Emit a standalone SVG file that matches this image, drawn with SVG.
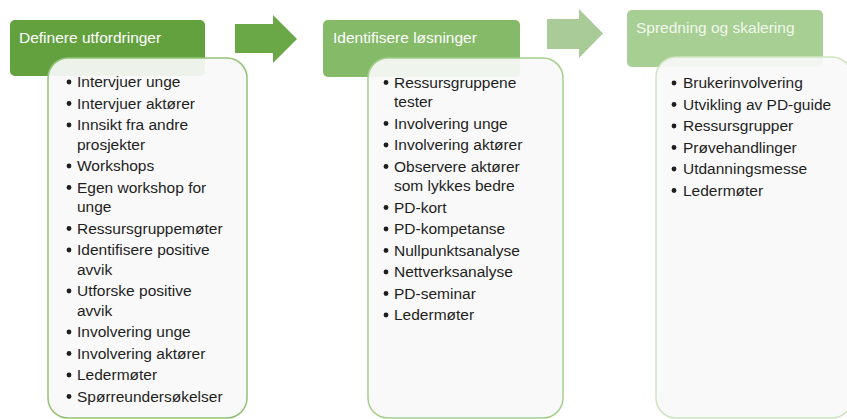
<svg xmlns="http://www.w3.org/2000/svg" width="847" height="419" viewBox="0 0 847 419">
<style>
  .hdr { stroke: none; }
  .htxt { font-family: "Liberation Sans", Arial, sans-serif; font-size: 15.5px; fill: #ffffff; }
  .body { fill: #f8f8f8; fill-opacity: 0.92; stroke-width: 1.5; }
  .item { font-family: "Liberation Sans", Arial, sans-serif; font-size: 15.5px; fill: #1e1e1e; }
  .dot { fill: #1e1e1e; }
</style>
<rect width="847" height="419" fill="#ffffff"/>

<g id="connectors">
  <polygon points="235,24 273,24 273,15 297,39 273,63 273,53 235,53" fill="#69a747"/>
  <polygon points="547,19 579,19 579,9 603,33.5 579,58 579,49 547,49" fill="#a9cb97"/>
</g>

<g id="node-definere">
  <rect class="hdr" x="10" y="20" width="195" height="56" rx="5" fill="#63a13f"/>
  <text class="htxt" x="19" y="43">Definere utfordringer</text>
  <rect class="body" x="48" y="58" width="199" height="360" rx="20" stroke="#92c275"/>
  <g class="dot">
    <circle cx="69" cy="82" r="2.4"/><circle cx="69" cy="103.5" r="2.4"/><circle cx="69" cy="125" r="2.4"/>
    <circle cx="69" cy="166" r="2.4"/><circle cx="69" cy="187.5" r="2.4"/><circle cx="69" cy="228.5" r="2.4"/>
    <circle cx="69" cy="250" r="2.4"/><circle cx="69" cy="291" r="2.4"/><circle cx="69" cy="332" r="2.4"/>
    <circle cx="69" cy="353.5" r="2.4"/><circle cx="69" cy="375" r="2.4"/><circle cx="69" cy="396.5" r="2.4"/>
  </g>
  <text class="item" x="77" y="87">Intervjuer unge</text>
  <text class="item" x="77" y="108.5">Intervjuer aktører</text>
  <text class="item" x="77" y="130">Innsikt fra andre</text>
  <text class="item" x="77" y="149.5">prosjekter</text>
  <text class="item" x="77" y="171">Workshops</text>
  <text class="item" x="77" y="192.5">Egen workshop for</text>
  <text class="item" x="77" y="212">unge</text>
  <text class="item" x="77" y="233.5">Ressursgruppemøter</text>
  <text class="item" x="77" y="255">Identifisere positive</text>
  <text class="item" x="77" y="274.5">avvik</text>
  <text class="item" x="77" y="296">Utforske positive</text>
  <text class="item" x="77" y="315.5">avvik</text>
  <text class="item" x="77" y="337">Involvering unge</text>
  <text class="item" x="77" y="358.5">Involvering aktører</text>
  <text class="item" x="77" y="380">Ledermøter</text>
  <text class="item" x="77" y="401.5">Spørreundersøkelser</text>
</g>

<g id="node-identifisere">
  <rect class="hdr" x="323" y="20" width="197" height="57" rx="5" fill="#84ba68"/>
  <text class="htxt" x="333" y="43">Identifisere løsninger</text>
  <rect class="body" x="368" y="58" width="195" height="360" rx="20" stroke="#a3cf8a"/>
  <g class="dot">
    <circle cx="386" cy="82.5" r="2.4"/><circle cx="386" cy="123.5" r="2.4"/><circle cx="386" cy="145" r="2.4"/>
    <circle cx="386" cy="166.5" r="2.4"/><circle cx="386" cy="207.5" r="2.4"/><circle cx="386" cy="229" r="2.4"/>
    <circle cx="386" cy="250.5" r="2.4"/><circle cx="386" cy="272" r="2.4"/><circle cx="386" cy="293.5" r="2.4"/>
    <circle cx="386" cy="315" r="2.4"/>
  </g>
  <text class="item" x="394" y="87.5">Ressursgruppene</text>
  <text class="item" x="394" y="107">tester</text>
  <text class="item" x="394" y="128.5">Involvering unge</text>
  <text class="item" x="394" y="150">Involvering aktører</text>
  <text class="item" x="394" y="171.5">Observere aktører</text>
  <text class="item" x="394" y="191">som lykkes bedre</text>
  <text class="item" x="394" y="212.5">PD-kort</text>
  <text class="item" x="394" y="234">PD-kompetanse</text>
  <text class="item" x="394" y="255.5">Nullpunktsanalyse</text>
  <text class="item" x="394" y="277">Nettverksanalyse</text>
  <text class="item" x="394" y="298.5">PD-seminar</text>
  <text class="item" x="394" y="320">Ledermøter</text>
</g>

<g id="node-spredning">
  <rect class="hdr" x="627" y="10" width="196" height="57" rx="5" fill="#a8cf93"/>
  <text class="htxt" x="636" y="33" fill-opacity="0.85">Spredning og skalering</text>
  <rect class="body" x="656" y="57" width="196" height="361" rx="20" stroke="#cfe5c1"/>
  <g class="dot">
    <circle cx="674" cy="83" r="2.4"/><circle cx="674" cy="104.5" r="2.4"/><circle cx="674" cy="126" r="2.4"/>
    <circle cx="674" cy="147.5" r="2.4"/><circle cx="674" cy="169" r="2.4"/><circle cx="674" cy="190.5" r="2.4"/>
  </g>
  <text class="item" x="683" y="88">Brukerinvolvering</text>
  <text class="item" x="683" y="109.5">Utvikling av PD-guide</text>
  <text class="item" x="683" y="131">Ressursgrupper</text>
  <text class="item" x="683" y="152.5">Prøvehandlinger</text>
  <text class="item" x="683" y="174">Utdanningsmesse</text>
  <text class="item" x="683" y="195.5">Ledermøter</text>
</g>
</svg>
